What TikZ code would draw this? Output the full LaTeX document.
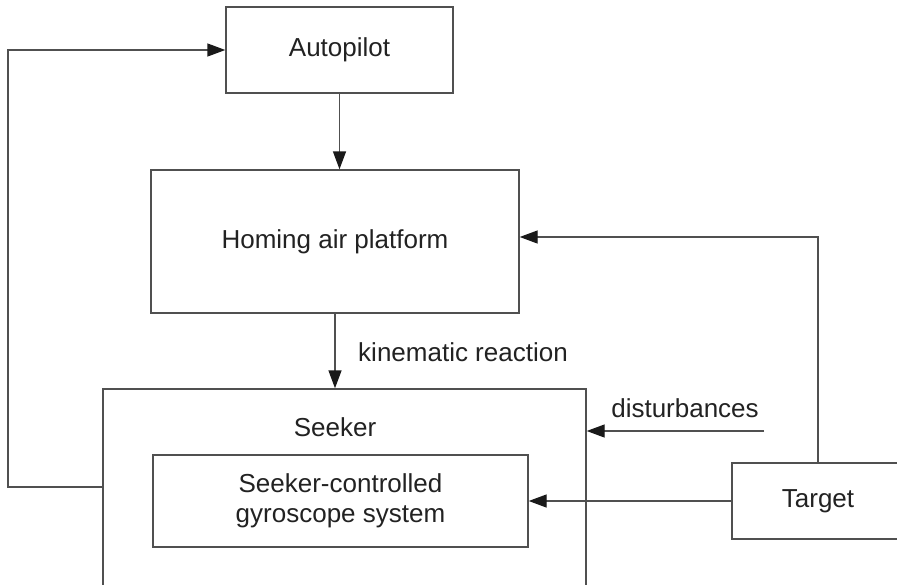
\documentclass[tikz,border=0pt]{standalone}
\usepackage{fontspec}
\setmainfont{Liberation Sans}
\usetikzlibrary{arrows.meta}
\definecolor{linegray}{HTML}{505050}
\definecolor{textdark}{HTML}{222222}
\definecolor{tipdark}{HTML}{1a1a1a}
\begin{document}
\begin{tikzpicture}[x=1pt,y=-1pt,
  box/.style={draw=linegray, line width=1.4pt, rectangle, inner sep=0pt, align=center,
              font=\fontsize{26}{30}\selectfont, text=textdark},
  lbl/.style={inner sep=0pt, font=\fontsize{26}{30}\selectfont, text=textdark},
  conn/.style={draw=linegray, line width=1.4pt, -{Triangle[length=18pt,width=13pt,color=tipdark]}},
  wire/.style={draw=linegray, line width=1.4pt}]
\useasboundingbox (0,0) rectangle (897,584);
\clip (0,0) rectangle (897,584);
\fill[white] (0,0) rectangle (897,584);

\node[box, minimum width=227pt, minimum height=86pt] (auto) at (339.5,50) {Autopilot};
\node[box, minimum width=368pt, minimum height=143pt] (homing) at (335,241.5) {Homing air platform};
\node[box, minimum width=483pt, minimum height=251pt] (seeker) at (344.5,514.5) {};
\node[lbl] (seekerlbl) at (335,427) {Seeker};
\node[box, minimum width=375pt, minimum height=92pt] (inner) at (340.5,501) {Seeker-controlled\\gyroscope system};
\node[box, minimum width=172pt, minimum height=76pt] (target) at (818,501) {Target};

\node[lbl] (kin) at (463,352) {kinematic reaction};
\node[lbl] (dlbl) at (685,408) {disturbances};

\coordinate (lp) at (8,487);
\coordinate (dist) at (764,431);

\draw[conn] (auto.south) -- (auto.south |- homing.north);
\draw[conn] (homing.south) -- (homing.south |- seeker.north);
\draw[conn] (seeker.west |- lp) -- (lp) |- (auto.west);
\draw[conn] (target.north) |- ([yshift=4.5pt]homing.east);
\draw[conn] (dist) -- (dist -| seeker.east);
\draw[conn] (target.west) -- (inner.east);
\end{tikzpicture}
\end{document}
